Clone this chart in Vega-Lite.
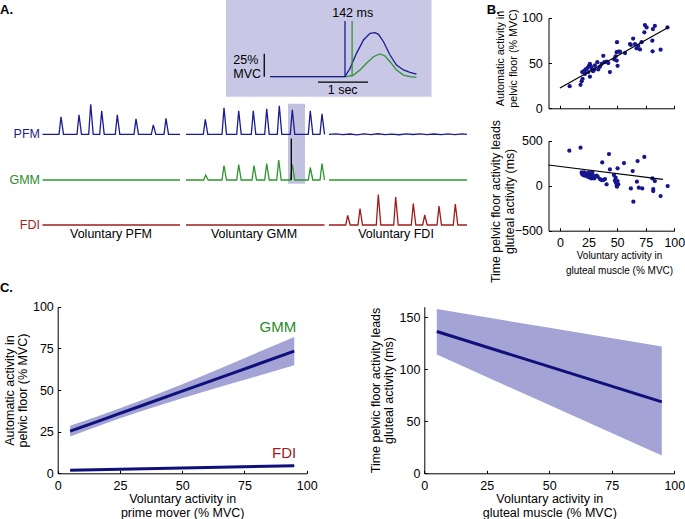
{
"$schema": "https://vega.github.io/schema/vega-lite/v6.json",
"width": 685,
"height": 519,
"autosize": {"type": "none"},
"padding": 0,
"background": "white",
"config": {
  "font": "Liberation Sans",
  "view": {"stroke": null},
  "axis": {"grid": false, "domainColor": "#000000", "tickColor": "#000000", "labelColor": "#000000", "titleColor": "#000000", "tickSize": -3, "tickWidth": 1, "domainWidth": 1, "labelFontSize": 12.5, "titleFontSize": 12.5, "titleFontWeight": "normal", "labelFlush": false, "labelOverlap": false, "labelPadding": 8, "titlePadding": 2}
},
"resolve": {"scale": {"x": "independent", "y": "independent"}, "axis": {"x": "independent", "y": "independent"}},
"datasets": {
  "one": [{}],
  "emg": [
    {"ch":"PFM","c":1,"t":0.05,"a":0},
    {"ch":"PFM","c":1,"t":1.7,"a":0},{"ch":"PFM","c":1,"t":1.9,"a":35},{"ch":"PFM","c":1,"t":2.15,"a":0},
    {"ch":"PFM","c":1,"t":3.5,"a":0},{"ch":"PFM","c":1,"t":3.7,"a":39},{"ch":"PFM","c":1,"t":3.95,"a":0},
    {"ch":"PFM","c":1,"t":4.67,"a":0},{"ch":"PFM","c":1,"t":4.87,"a":60},{"ch":"PFM","c":1,"t":5.12,"a":0},
    {"ch":"PFM","c":1,"t":5.77,"a":0},{"ch":"PFM","c":1,"t":5.97,"a":47},{"ch":"PFM","c":1,"t":6.22,"a":0},
    {"ch":"PFM","c":1,"t":7.33,"a":0},{"ch":"PFM","c":1,"t":7.53,"a":39},{"ch":"PFM","c":1,"t":7.78,"a":0},
    {"ch":"PFM","c":1,"t":9.2,"a":0},{"ch":"PFM","c":1,"t":9.4,"a":31},{"ch":"PFM","c":1,"t":9.65,"a":0},
    {"ch":"PFM","c":1,"t":10.93,"a":0},{"ch":"PFM","c":1,"t":11.13,"a":19},{"ch":"PFM","c":1,"t":11.38,"a":0},
    {"ch":"PFM","c":1,"t":12.2,"a":0},{"ch":"PFM","c":1,"t":12.4,"a":32},{"ch":"PFM","c":1,"t":12.65,"a":0},
    {"ch":"PFM","c":1,"t":13.8,"a":0},
    {"ch":"PFM","c":2,"t":14.4,"a":0},
    {"ch":"PFM","c":2,"t":16.13,"a":0},{"ch":"PFM","c":2,"t":16.33,"a":30},{"ch":"PFM","c":2,"t":16.58,"a":0},
    {"ch":"PFM","c":2,"t":18.0,"a":0},{"ch":"PFM","c":2,"t":18.2,"a":53},{"ch":"PFM","c":2,"t":18.45,"a":0},
    {"ch":"PFM","c":2,"t":19.47,"a":0},{"ch":"PFM","c":2,"t":19.67,"a":47},{"ch":"PFM","c":2,"t":19.92,"a":0},
    {"ch":"PFM","c":2,"t":20.93,"a":0},{"ch":"PFM","c":2,"t":21.13,"a":47},{"ch":"PFM","c":2,"t":21.38,"a":0},
    {"ch":"PFM","c":2,"t":22.27,"a":0},{"ch":"PFM","c":2,"t":22.47,"a":51},{"ch":"PFM","c":2,"t":22.72,"a":0},
    {"ch":"PFM","c":2,"t":23.53,"a":0},{"ch":"PFM","c":2,"t":23.73,"a":57},{"ch":"PFM","c":2,"t":23.98,"a":0},
    {"ch":"PFM","c":2,"t":24.83,"a":0},{"ch":"PFM","c":2,"t":25.03,"a":49},{"ch":"PFM","c":2,"t":25.28,"a":0},
    {"ch":"PFM","c":2,"t":26.63,"a":0},{"ch":"PFM","c":2,"t":26.83,"a":47},{"ch":"PFM","c":2,"t":27.08,"a":0},
    {"ch":"PFM","c":2,"t":27.8,"a":0},{"ch":"PFM","c":2,"t":28.0,"a":41},{"ch":"PFM","c":2,"t":28.25,"a":0},
    {"ch":"PFM","c":3,"t":28.7,"a":0},{"ch":"PFM","c":3,"t":29.4,"a":1},{"ch":"PFM","c":3,"t":30.1,"a":-0.8},{"ch":"PFM","c":3,"t":30.8,"a":0.6},
    {"ch":"PFM","c":3,"t":31.5,"a":-1},{"ch":"PFM","c":3,"t":32.2,"a":0.8},{"ch":"PFM","c":3,"t":32.9,"a":-0.5},{"ch":"PFM","c":3,"t":33.6,"a":1.1},
    {"ch":"PFM","c":3,"t":34.3,"a":-0.7},{"ch":"PFM","c":3,"t":35.0,"a":0.5},{"ch":"PFM","c":3,"t":35.7,"a":-0.9},{"ch":"PFM","c":3,"t":36.4,"a":0.8},
    {"ch":"PFM","c":3,"t":37.1,"a":-0.4},{"ch":"PFM","c":3,"t":37.8,"a":1},{"ch":"PFM","c":3,"t":38.5,"a":-0.8},{"ch":"PFM","c":3,"t":39.2,"a":0.6},
    {"ch":"PFM","c":3,"t":39.9,"a":-0.6},{"ch":"PFM","c":3,"t":40.6,"a":0.9},{"ch":"PFM","c":3,"t":41.3,"a":-0.5},{"ch":"PFM","c":3,"t":42.0,"a":0.7},
    {"ch":"PFM","c":3,"t":42.5,"a":0},
    {"ch":"GMM","c":1,"t":0.05,"a":0},{"ch":"GMM","c":1,"t":13.8,"a":0},
    {"ch":"GMM","c":2,"t":14.4,"a":0},
    {"ch":"GMM","c":2,"t":16.17,"a":0},{"ch":"GMM","c":2,"t":16.37,"a":10},{"ch":"GMM","c":2,"t":16.62,"a":0},
    {"ch":"GMM","c":2,"t":18.0,"a":0},{"ch":"GMM","c":2,"t":18.2,"a":29},{"ch":"GMM","c":2,"t":18.45,"a":0},
    {"ch":"GMM","c":2,"t":19.47,"a":0},{"ch":"GMM","c":2,"t":19.67,"a":31},{"ch":"GMM","c":2,"t":19.92,"a":0},
    {"ch":"GMM","c":2,"t":21.0,"a":0},{"ch":"GMM","c":2,"t":21.2,"a":29},{"ch":"GMM","c":2,"t":21.45,"a":0},
    {"ch":"GMM","c":2,"t":22.27,"a":0},{"ch":"GMM","c":2,"t":22.47,"a":33},{"ch":"GMM","c":2,"t":22.72,"a":0},
    {"ch":"GMM","c":2,"t":23.47,"a":0},{"ch":"GMM","c":2,"t":23.67,"a":40},{"ch":"GMM","c":2,"t":23.92,"a":0},
    {"ch":"GMM","c":2,"t":24.83,"a":0},{"ch":"GMM","c":2,"t":25.03,"a":31},{"ch":"GMM","c":2,"t":25.28,"a":0},
    {"ch":"GMM","c":2,"t":26.63,"a":0},{"ch":"GMM","c":2,"t":26.83,"a":25},{"ch":"GMM","c":2,"t":27.08,"a":0},
    {"ch":"GMM","c":2,"t":27.8,"a":0},{"ch":"GMM","c":2,"t":28.0,"a":33},{"ch":"GMM","c":2,"t":28.25,"a":0},
    {"ch":"GMM","c":3,"t":28.7,"a":0},{"ch":"GMM","c":3,"t":42.5,"a":0},
    {"ch":"FDI","c":1,"t":0.05,"a":0},{"ch":"FDI","c":1,"t":13.8,"a":0},
    {"ch":"FDI","c":2,"t":14.4,"a":0},{"ch":"FDI","c":2,"t":28.25,"a":0},
    {"ch":"FDI","c":3,"t":28.7,"a":0},
    {"ch":"FDI","c":3,"t":30.37,"a":0},{"ch":"FDI","c":3,"t":30.57,"a":19},{"ch":"FDI","c":3,"t":30.82,"a":0},
    {"ch":"FDI","c":3,"t":31.6,"a":0},{"ch":"FDI","c":3,"t":31.8,"a":33},{"ch":"FDI","c":3,"t":32.05,"a":0},
    {"ch":"FDI","c":3,"t":33.43,"a":0},{"ch":"FDI","c":3,"t":33.63,"a":61},{"ch":"FDI","c":3,"t":33.88,"a":0},
    {"ch":"FDI","c":3,"t":35.17,"a":0},{"ch":"FDI","c":3,"t":35.37,"a":56},{"ch":"FDI","c":3,"t":35.62,"a":0},
    {"ch":"FDI","c":3,"t":36.93,"a":0},{"ch":"FDI","c":3,"t":37.13,"a":43},{"ch":"FDI","c":3,"t":37.38,"a":0},
    {"ch":"FDI","c":3,"t":38.07,"a":0},{"ch":"FDI","c":3,"t":38.27,"a":20},{"ch":"FDI","c":3,"t":38.52,"a":0},
    {"ch":"FDI","c":3,"t":39.5,"a":0},{"ch":"FDI","c":3,"t":39.7,"a":38},{"ch":"FDI","c":3,"t":39.95,"a":0},
    {"ch":"FDI","c":3,"t":41.13,"a":0},{"ch":"FDI","c":3,"t":41.33,"a":42},{"ch":"FDI","c":3,"t":41.58,"a":0},
    {"ch":"FDI","c":3,"t":42.5,"a":0}
  ],
  "ins": [
    {"ch":"PFM","t":0,"a":0},{"ch":"PFM","t":1.5,"a":0},{"ch":"PFM","t":1.6,"a":9.1},{"ch":"PFM","t":1.73,"a":25.4},{"ch":"PFM","t":1.87,"a":39.9},
    {"ch":"PFM","t":2.0,"a":47.2},{"ch":"PFM","t":2.1,"a":47.8},{"ch":"PFM","t":2.17,"a":46.1},{"ch":"PFM","t":2.27,"a":38},{"ch":"PFM","t":2.4,"a":23.6},
    {"ch":"PFM","t":2.53,"a":12.7},{"ch":"PFM","t":2.67,"a":7.3},{"ch":"PFM","t":2.8,"a":4.8},{"ch":"PFM","t":2.93,"a":2.9},
    {"ch":"GMM","t":0,"a":0},{"ch":"GMM","t":1.53,"a":0},{"ch":"GMM","t":1.67,"a":1.8},{"ch":"GMM","t":1.8,"a":7.3},{"ch":"GMM","t":1.93,"a":14.6},
    {"ch":"GMM","t":2.07,"a":21.7},{"ch":"GMM","t":2.2,"a":24.7},{"ch":"GMM","t":2.3,"a":22.5},{"ch":"GMM","t":2.4,"a":16.3},{"ch":"GMM","t":2.53,"a":7.3},
    {"ch":"GMM","t":2.67,"a":1.8},{"ch":"GMM","t":2.8,"a":0},{"ch":"GMM","t":2.93,"a":-0.7}
  ],
  "b1": [
    {"x":8.5,"y":24.5},{"x":18,"y":26},{"x":19,"y":30},{"x":19.8,"y":32.6},{"x":19.5,"y":40},{"x":21,"y":41},{"x":22.4,"y":43},{"x":24.2,"y":44.7},
    {"x":25.4,"y":47},{"x":26.2,"y":49},{"x":27,"y":46.5},{"x":24.8,"y":40},{"x":26.2,"y":35},{"x":29,"y":41},{"x":30.6,"y":47.3},{"x":32.7,"y":51},
    {"x":33.5,"y":43},{"x":35,"y":46},{"x":36.4,"y":49},{"x":37.9,"y":58},{"x":38.8,"y":51},{"x":40.8,"y":51.6},{"x":42.3,"y":50},{"x":43.7,"y":40},
    {"x":47.5,"y":54},{"x":48.7,"y":57.5},{"x":49.6,"y":62},{"x":49.9,"y":73},{"x":51,"y":62.6},{"x":49.6,"y":52.7},{"x":50.4,"y":47},{"x":52.5,"y":62.6},
    {"x":56.9,"y":61},{"x":62,"y":70},{"x":64,"y":77},{"x":65.6,"y":71},{"x":67,"y":66.3},{"x":68.5,"y":69},{"x":71.4,"y":73},{"x":70,"y":65},
    {"x":73.8,"y":84},{"x":74.3,"y":92},{"x":75.8,"y":89.4},{"x":80.8,"y":74.7},{"x":81.3,"y":87.5},{"x":83,"y":91},{"x":81,"y":63},{"x":88,"y":64.8},
    {"x":94,"y":89.4},{"x":61.2,"y":71},{"x":21.9,"y":38},{"x":27.7,"y":43.6},{"x":30,"y":43}
  ],
  "b2": [
    {"x":8.2,"y":389},{"x":18,"y":422},{"x":19,"y":148},{"x":19.5,"y":126},{"x":21.3,"y":148},{"x":21.9,"y":111},{"x":23.3,"y":137},{"x":24.2,"y":100},
    {"x":25.4,"y":148},{"x":26.2,"y":89},{"x":27,"y":126},{"x":27.7,"y":81},{"x":28.3,"y":148},{"x":29,"y":111},{"x":32,"y":111},{"x":33,"y":100},
    {"x":35,"y":74},{"x":36.4,"y":63},{"x":37,"y":259},{"x":37.9,"y":63},{"x":39.4,"y":74},{"x":40.8,"y":15},{"x":42.9,"y":352},{"x":43.7,"y":181},
    {"x":47.2,"y":118},{"x":48.1,"y":56},{"x":48.7,"y":89},{"x":49,"y":33},{"x":49.6,"y":0},{"x":50.4,"y":193},{"x":50.4,"y":52},{"x":51,"y":15},
    {"x":49.9,"y":-11},{"x":56,"y":252},{"x":62,"y":-30},{"x":63.6,"y":163},{"x":64.2,"y":-178},{"x":67.3,"y":44},{"x":67.9,"y":274},{"x":69,"y":-22},
    {"x":72,"y":-30},{"x":73.8,"y":319},{"x":80.8,"y":81},{"x":81.6,"y":-37},{"x":81.6,"y":-59},{"x":83,"y":52},{"x":88,"y":-115},{"x":94.2,"y":-4},
    {"x":20.4,"y":118},{"x":24.8,"y":118},{"x":30,"y":81}
  ],
  "b1fit": [{"x":0,"y":22.5},{"x":95,"y":89.5}],
  "b2fit": [{"x":-10,"y":230},{"x":90,"y":70}],
  "c1": [
    {"m":"GMM","x":5,"fit":25.3,"lo":22.1,"hi":28.5},{"m":"GMM","x":15,"fit":30.6,"lo":27.6,"hi":33.6},
    {"m":"GMM","x":25,"fit":36.0,"lo":33.0,"hi":39.0},{"m":"GMM","x":35,"fit":41.3,"lo":38.0,"hi":44.6},
    {"m":"GMM","x":50,"fit":49.3,"lo":45.1,"hi":53.5},{"m":"GMM","x":65,"fit":57.3,"lo":51.8,"hi":62.8},
    {"m":"GMM","x":80,"fit":65.3,"lo":58.3,"hi":72.3},{"m":"GMM","x":95,"fit":73.3,"lo":64.8,"hi":81.8},
    {"m":"FDI","x":5,"fit":1.8,"lo":1.4,"hi":2.2},{"m":"FDI","x":50,"fit":3.2,"lo":2.8,"hi":3.6},{"m":"FDI","x":95,"fit":4.6,"lo":4.0,"hi":5.2}
  ],
  "c2": [
    {"x":5,"fit":136.2,"lo":114.1,"hi":157.7},{"x":50,"fit":102.4,"lo":65.5,"hi":139.7},{"x":95,"fit":68.6,"lo":17.0,"hi":121.8}
  ]
},
"layer": [
  {"data":{"name":"one"},"mark":{"type":"rect","color":"#c8c8e6"},
   "encoding":{"x":{"datum":-0.88,"type":"quantitative","scale":{"domain":[0,3],"range":[270,420],"nice":false,"zero":false},"axis":null},"x2":{"datum":3.23},
               "y":{"datum":-21.7,"type":"quantitative","scale":{"domain":[0,60],"range":[76.7,21.5],"nice":false,"zero":false},"axis":null},"y2":{"datum":83.4}}},
  {"data":{"name":"ins"},"transform":[{"filter":"datum.ch === 'GMM'"}],"mark":{"type":"line","color":"#2e962e","strokeWidth":1.3},
   "encoding":{"x":{"field":"t","type":"quantitative","scale":{"domain":[0,3],"range":[270,420],"nice":false,"zero":false},"axis":null},
               "y":{"field":"a","type":"quantitative","scale":{"domain":[0,60],"range":[76.7,21.5],"nice":false,"zero":false},"axis":null}}},
  {"data":{"name":"ins"},"transform":[{"filter":"datum.ch === 'PFM'"}],"mark":{"type":"line","color":"#1c1c90","strokeWidth":1.3},
   "encoding":{"x":{"field":"t","type":"quantitative","scale":{"domain":[0,3],"range":[270,420],"nice":false,"zero":false},"axis":null},
               "y":{"field":"a","type":"quantitative","scale":{"domain":[0,60],"range":[76.7,21.5],"nice":false,"zero":false},"axis":null}}},
  {"data":{"name":"one"},"mark":{"type":"rule","color":"#1c1c90","strokeWidth":1.3},
   "encoding":{"x":{"datum":1.5,"type":"quantitative","scale":{"domain":[0,3],"range":[270,420],"nice":false,"zero":false},"axis":null},
               "y":{"datum":0,"type":"quantitative","scale":{"domain":[0,60],"range":[76.7,21.5],"nice":false,"zero":false},"axis":null},"y2":{"datum":60.5}}},
  {"data":{"name":"one"},"mark":{"type":"rule","color":"#2e962e","strokeWidth":1.3},
   "encoding":{"x":{"datum":1.642,"type":"quantitative","scale":{"domain":[0,3],"range":[270,420],"nice":false,"zero":false},"axis":null},
               "y":{"datum":0,"type":"quantitative","scale":{"domain":[0,60],"range":[76.7,21.5],"nice":false,"zero":false},"axis":null},"y2":{"datum":60.5}}},
  {"data":{"name":"one"},"mark":{"type":"rule","color":"#000000","strokeWidth":1.3},
   "encoding":{"x":{"datum":-0.115,"type":"quantitative","scale":{"domain":[0,3],"range":[270,420],"nice":false,"zero":false},"axis":null},
               "y":{"datum":0,"type":"quantitative","scale":{"domain":[0,60],"range":[76.7,21.5],"nice":false,"zero":false},"axis":null},"y2":{"datum":25}}},
  {"data":{"name":"one"},"mark":{"type":"rule","color":"#000000","strokeWidth":1.3},
   "encoding":{"x":{"datum":0.96,"type":"quantitative","scale":{"domain":[0,3],"range":[270,420],"nice":false,"zero":false},"axis":null},"x2":{"datum":1.96},
               "y":{"datum":-6,"type":"quantitative","scale":{"domain":[0,60],"range":[76.7,21.5],"nice":false,"zero":false},"axis":null}}},
  {"data":{"name":"one"},"mark":{"type":"text","text":"142 ms","fontSize":12.5,"align":"center","baseline":"alphabetic","color":"#000000"},
   "encoding":{"x":{"datum":1.654,"type":"quantitative","scale":{"domain":[0,3],"range":[270,420],"nice":false,"zero":false},"axis":null},
               "y":{"datum":65.2,"type":"quantitative","scale":{"domain":[0,60],"range":[76.7,21.5],"nice":false,"zero":false},"axis":null}}},
  {"data":{"name":"one"},"mark":{"type":"text","text":"25%","fontSize":12.5,"align":"left","baseline":"alphabetic","color":"#000000"},
   "encoding":{"x":{"datum":-0.733,"type":"quantitative","scale":{"domain":[0,3],"range":[270,420],"nice":false,"zero":false},"axis":null},
               "y":{"datum":13.8,"type":"quantitative","scale":{"domain":[0,60],"range":[76.7,21.5],"nice":false,"zero":false},"axis":null}}},
  {"data":{"name":"one"},"mark":{"type":"text","text":"MVC","fontSize":12.5,"align":"left","baseline":"alphabetic","color":"#000000"},
   "encoding":{"x":{"datum":-0.733,"type":"quantitative","scale":{"domain":[0,3],"range":[270,420],"nice":false,"zero":false},"axis":null},
               "y":{"datum":-1.4,"type":"quantitative","scale":{"domain":[0,60],"range":[76.7,21.5],"nice":false,"zero":false},"axis":null}}},
  {"data":{"name":"one"},"mark":{"type":"text","text":"1 sec","fontSize":12.5,"align":"center","baseline":"alphabetic","color":"#000000"},
   "encoding":{"x":{"datum":1.453,"type":"quantitative","scale":{"domain":[0,3],"range":[270,420],"nice":false,"zero":false},"axis":null},
               "y":{"datum":-18.8,"type":"quantitative","scale":{"domain":[0,60],"range":[76.7,21.5],"nice":false,"zero":false},"axis":null}}},

  {"data":{"name":"one"},"mark":{"type":"rect","color":"#c2c2e0"},
   "encoding":{"x":{"datum":24.6,"type":"quantitative","scale":{"domain":[0,42.5],"range":[42,467],"nice":false,"zero":false},"axis":null},"x2":{"datum":26.3},
               "y":{"datum":-99,"type":"quantitative","scale":{"domain":[0,100],"range":[134.3,84.3],"nice":false,"zero":false},"axis":null},"y2":{"datum":61}}},
  {"data":{"name":"emg"},"transform":[{"filter":"datum.ch === 'PFM'"}],"mark":{"type":"line","color":"#1c1c90","strokeWidth":1.3},
   "encoding":{"x":{"field":"t","type":"quantitative","scale":{"domain":[0,42.5],"range":[42,467],"nice":false,"zero":false},"axis":null},
               "y":{"field":"a","type":"quantitative","scale":{"domain":[0,100],"range":[134.3,84.3],"nice":false,"zero":false},"axis":null},
               "detail":{"field":"c","type":"nominal"}}},
  {"data":{"name":"one"},"mark":{"type":"text","text":"PFM","fontSize":12.5,"align":"right","baseline":"middle","color":"#1c1c90"},
   "encoding":{"x":{"datum":-0.2,"type":"quantitative","scale":{"domain":[0,42.5],"range":[42,467],"nice":false,"zero":false},"axis":null},
               "y":{"datum":0,"type":"quantitative","scale":{"domain":[0,100],"range":[134.3,84.3],"nice":false,"zero":false},"axis":null}}},
  {"data":{"name":"one"},"mark":{"type":"text","text":"A.","fontSize":13,"fontWeight":"bold","align":"left","baseline":"alphabetic","color":"#000000"},
   "encoding":{"x":{"datum":-4.2,"type":"quantitative","scale":{"domain":[0,42.5],"range":[42,467],"nice":false,"zero":false},"axis":null},
               "y":{"datum":241.6,"type":"quantitative","scale":{"domain":[0,100],"range":[134.3,84.3],"nice":false,"zero":false},"axis":null}}},
  {"data":{"name":"emg"},"transform":[{"filter":"datum.ch === 'GMM'"}],"mark":{"type":"line","color":"#2e962e","strokeWidth":1.3},
   "encoding":{"x":{"field":"t","type":"quantitative","scale":{"domain":[0,42.5],"range":[42,467],"nice":false,"zero":false},"axis":null},
               "y":{"field":"a","type":"quantitative","scale":{"domain":[0,100],"range":[180,130],"nice":false,"zero":false},"axis":null},
               "detail":{"field":"c","type":"nominal"}}},
  {"data":{"name":"one"},"mark":{"type":"rule","color":"#000000","strokeWidth":1.3},
   "encoding":{"x":{"datum":24.93,"type":"quantitative","scale":{"domain":[0,42.5],"range":[42,467],"nice":false,"zero":false},"axis":null},
               "y":{"datum":0,"type":"quantitative","scale":{"domain":[0,100],"range":[180,130],"nice":false,"zero":false},"axis":null},"y2":{"datum":83}}},
  {"data":{"name":"one"},"mark":{"type":"text","text":"GMM","fontSize":12.5,"align":"right","baseline":"middle","color":"#2a8c2a"},
   "encoding":{"x":{"datum":-0.2,"type":"quantitative","scale":{"domain":[0,42.5],"range":[42,467],"nice":false,"zero":false},"axis":null},
               "y":{"datum":0,"type":"quantitative","scale":{"domain":[0,100],"range":[180,130],"nice":false,"zero":false},"axis":null}}},
  {"data":{"name":"emg"},"transform":[{"filter":"datum.ch === 'FDI'"}],"mark":{"type":"line","color":"#9e1c1c","strokeWidth":1.3},
   "encoding":{"x":{"field":"t","type":"quantitative","scale":{"domain":[0,42.5],"range":[42,467],"nice":false,"zero":false},"axis":null},
               "y":{"field":"a","type":"quantitative","scale":{"domain":[0,100],"range":[225,175],"nice":false,"zero":false},"axis":null},
               "detail":{"field":"c","type":"nominal"}}},
  {"data":{"name":"one"},"mark":{"type":"text","text":"FDI","fontSize":12.5,"align":"right","baseline":"middle","color":"#9e1c1c"},
   "encoding":{"x":{"datum":-0.2,"type":"quantitative","scale":{"domain":[0,42.5],"range":[42,467],"nice":false,"zero":false},"axis":null},
               "y":{"datum":0,"type":"quantitative","scale":{"domain":[0,100],"range":[225,175],"nice":false,"zero":false},"axis":null}}},
  {"data":{"name":"one"},"mark":{"type":"text","text":"Voluntary PFM","fontSize":12.5,"align":"center","baseline":"alphabetic","color":"#000000"},
   "encoding":{"x":{"datum":6.9,"type":"quantitative","scale":{"domain":[0,42.5],"range":[42,467],"nice":false,"zero":false},"axis":null},
               "y":{"datum":-26,"type":"quantitative","scale":{"domain":[0,100],"range":[225,175],"nice":false,"zero":false},"axis":null}}},
  {"data":{"name":"one"},"mark":{"type":"text","text":"Voluntary GMM","fontSize":12.5,"align":"center","baseline":"alphabetic","color":"#000000"},
   "encoding":{"x":{"datum":21.2,"type":"quantitative","scale":{"domain":[0,42.5],"range":[42,467],"nice":false,"zero":false},"axis":null},
               "y":{"datum":-26,"type":"quantitative","scale":{"domain":[0,100],"range":[225,175],"nice":false,"zero":false},"axis":null}}},
  {"data":{"name":"one"},"mark":{"type":"text","text":"Voluntary FDI","fontSize":12.5,"align":"center","baseline":"alphabetic","color":"#000000"},
   "encoding":{"x":{"datum":35.4,"type":"quantitative","scale":{"domain":[0,42.5],"range":[42,467],"nice":false,"zero":false},"axis":null},
               "y":{"datum":-26,"type":"quantitative","scale":{"domain":[0,100],"range":[225,175],"nice":false,"zero":false},"axis":null}}},

  {"data":{"name":"b1"},"mark":{"type":"circle","color":"#161690","size":18,"opacity":1},
   "encoding":{"x":{"field":"x","type":"quantitative","scale":{"domain":[-10,100],"range":[548.5,674.3],"nice":false,"zero":false},
                    "axis":{"orient":"bottom","offset":-410.7,"values":[0,25,50,75,100],"labels":false,"title":null}},
               "y":{"field":"y","type":"quantitative","scale":{"domain":[0,100],"range":[108.3,17.8],"nice":false,"zero":false},
                    "axis":{"orient":"left","offset":-548.5,"values":[0,50,100],"labelPadding":9.2,"title":["Automatic activity in","pelvic floor (% MVC)"],"titleFontSize":10.8,"titleLineHeight":13.3,"titlePadding":3,"titleY":58}}}},
  {"data":{"name":"b1fit"},"mark":{"type":"line","color":"#000000","strokeWidth":1.2},
   "encoding":{"x":{"field":"x","type":"quantitative","scale":{"domain":[-10,100],"range":[548.5,674.3],"nice":false,"zero":false},"axis":null},
               "y":{"field":"y","type":"quantitative","scale":{"domain":[0,100],"range":[108.3,17.8],"nice":false,"zero":false},"axis":null}}},
  {"data":{"name":"one"},"mark":{"type":"text","text":"B.","fontSize":13,"fontWeight":"bold","align":"left","baseline":"alphabetic","color":"#000000"},
   "encoding":{"x":{"datum":-64,"type":"quantitative","scale":{"domain":[-10,100],"range":[548.5,674.3],"nice":false,"zero":false},"axis":null},
               "y":{"datum":104,"type":"quantitative","scale":{"domain":[0,100],"range":[108.3,17.8],"nice":false,"zero":false},"axis":null}}},
  {"data":{"name":"b2"},"mark":{"type":"circle","color":"#161690","size":18,"opacity":1},
   "encoding":{"x":{"field":"x","type":"quantitative","scale":{"domain":[-10,100],"range":[548.5,674.3],"nice":false,"zero":false},
                    "axis":{"orient":"bottom","offset":-288.3,"values":[0,25,50,75,100],"labelPadding":8.8,"title":["Voluntary activity in","gluteal muscle (% MVC)"],"titleFontSize":10,"titleLineHeight":15.5,"titlePadding":1,"titleX":619}},
               "y":{"field":"y","type":"quantitative","scale":{"domain":[-500,500],"range":[230.7,140.7],"nice":false,"zero":false},
                    "axis":{"orient":"left","offset":-548.5,"values":[-500,0,500],"labelPadding":9.2,"title":["Time pelvic floor activity leads","gluteal activity (ms)"],"titleFontSize":12.3,"titleLineHeight":14,"titlePadding":-2,"titleY":201}}}},
  {"data":{"name":"b2fit"},"mark":{"type":"line","color":"#000000","strokeWidth":1.2},
   "encoding":{"x":{"field":"x","type":"quantitative","scale":{"domain":[-10,100],"range":[548.5,674.3],"nice":false,"zero":false},"axis":null},
               "y":{"field":"y","type":"quantitative","scale":{"domain":[-500,500],"range":[230.7,140.7],"nice":false,"zero":false},"axis":null}}},

  {"data":{"name":"c1"},"mark":{"type":"area","color":"#a3a3d6","opacity":1},
   "encoding":{"x":{"field":"x","type":"quantitative","scale":{"domain":[0,100],"range":[57.7,306.7],"nice":false,"zero":false},
                    "axis":{"orient":"bottom","offset":-45.7,"values":[0,25,50,75,100],"labelPadding":8.7,"title":["Voluntary activity in","prime mover (% MVC)"],"titleLineHeight":13.5,"titlePadding":1}},
               "y":{"field":"lo","type":"quantitative","scale":{"domain":[0,100],"range":[473.3,306.7],"nice":false,"zero":false},
                    "axis":{"orient":"left","offset":-57.7,"values":[0,25,50,75,100],"labelPadding":7.4,"title":["Automatic activity in","pelvic floor (% MVC)"],"titleLineHeight":13,"titlePadding":3}},
               "y2":{"field":"hi"},
               "detail":{"field":"m","type":"nominal"}}},
  {"data":{"name":"c1"},"mark":{"type":"line","color":"#10107a","strokeWidth":3},
   "encoding":{"x":{"field":"x","type":"quantitative","scale":{"domain":[0,100],"range":[57.7,306.7],"nice":false,"zero":false},"axis":null},
               "y":{"field":"fit","type":"quantitative","scale":{"domain":[0,100],"range":[473.3,306.7],"nice":false,"zero":false},"axis":null},
               "detail":{"field":"m","type":"nominal"}}},
  {"data":{"name":"one"},"mark":{"type":"text","text":"GMM","fontSize":15,"align":"right","baseline":"alphabetic","color":"#2a8c2a"},
   "encoding":{"x":{"datum":95.8,"type":"quantitative","scale":{"domain":[0,100],"range":[57.7,306.7],"nice":false,"zero":false},"axis":null},
               "y":{"datum":85,"type":"quantitative","scale":{"domain":[0,100],"range":[473.3,306.7],"nice":false,"zero":false},"axis":null}}},
  {"data":{"name":"one"},"mark":{"type":"text","text":"FDI","fontSize":15,"align":"right","baseline":"alphabetic","color":"#9e1c1c"},
   "encoding":{"x":{"datum":95.8,"type":"quantitative","scale":{"domain":[0,100],"range":[57.7,306.7],"nice":false,"zero":false},"axis":null},
               "y":{"datum":9,"type":"quantitative","scale":{"domain":[0,100],"range":[473.3,306.7],"nice":false,"zero":false},"axis":null}}},
  {"data":{"name":"one"},"mark":{"type":"text","text":"C.","fontSize":13,"fontWeight":"bold","align":"left","baseline":"alphabetic","color":"#000000"},
   "encoding":{"x":{"datum":-23.2,"type":"quantitative","scale":{"domain":[0,100],"range":[57.7,306.7],"nice":false,"zero":false},"axis":null},
               "y":{"datum":108.8,"type":"quantitative","scale":{"domain":[0,100],"range":[473.3,306.7],"nice":false,"zero":false},"axis":null}}},

  {"data":{"name":"c2"},"mark":{"type":"area","color":"#a3a3d6","opacity":1},
   "encoding":{"x":{"field":"x","type":"quantitative","scale":{"domain":[0,100],"range":[424.3,674.3],"nice":false,"zero":false},
                    "axis":{"orient":"bottom","offset":-45.7,"values":[0,25,50,75,100],"labelPadding":8.7,"title":["Voluntary activity in","gluteal muscle (% MVC)"],"titleLineHeight":13.5,"titlePadding":1}},
               "y":{"field":"lo","type":"quantitative","scale":{"domain":[0,160],"range":[473.3,306.7],"nice":false,"zero":false},
                    "axis":{"orient":"left","offset":-424.3,"values":[0,50,100,150],"labelPadding":7.4,"title":["Time pelvic floor activity leads","gluteal activity (ms)"],"titleLineHeight":13.5,"titlePadding":3.5}},
               "y2":{"field":"hi"}}},
  {"data":{"name":"c2"},"mark":{"type":"line","color":"#10107a","strokeWidth":3},
   "encoding":{"x":{"field":"x","type":"quantitative","scale":{"domain":[0,100],"range":[424.3,674.3],"nice":false,"zero":false},"axis":null},
               "y":{"field":"fit","type":"quantitative","scale":{"domain":[0,160],"range":[473.3,306.7],"nice":false,"zero":false},"axis":null}}}
]
}
